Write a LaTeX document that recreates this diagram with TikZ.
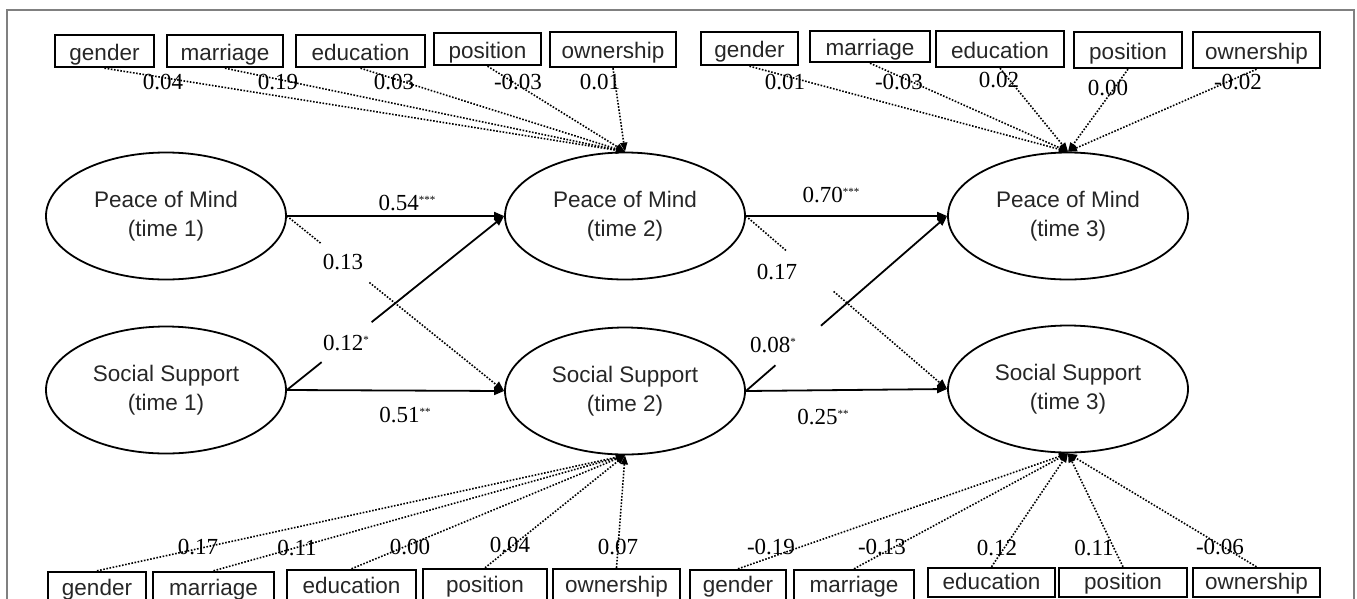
\documentclass[tikz,border=0pt]{standalone}
\usepackage{fontspec}
\setmainfont{Liberation Serif}
\setsansfont{Liberation Sans}
\usetikzlibrary{calc,arrows.meta,shapes.geometric}
\newcommand{\sig}[1]{\raisebox{7pt}{\fontsize{11}{11}\selectfont #1}}
\begin{document}
\begin{tikzpicture}[x=1pt,y=-1pt,
  lat/.style={ellipse, draw, line width=1.8pt, minimum width=240pt, minimum height=127pt,
    inner sep=0pt, align=center, text=black!85,
    font=\sffamily\fontsize{22.5}{29}\selectfont},
  ctrl/.style={draw, line width=2.4pt, inner sep=0pt, text height=18pt, text depth=0pt,
    text=black!85, font=\sffamily\fontsize{22.5}{26}\selectfont},
  bctrl/.style={ctrl, text height=14pt},
  lab/.style={inner sep=1pt, font=\fontsize{23}{23}\selectfont},
  tipa/.style={-{Triangle[length=10pt,width=8pt]}},
  solidl/.style={line width=1.8pt},
  dotl/.style={line width=1.6pt, dash pattern=on 1.6pt off 1.6pt},
  ctl/.style={dotl, -{Triangle[length=9pt,width=7pt]}}
]
\useasboundingbox (0,0) rectangle (1357,598);
\draw[black!50, line width=2pt] (7,600) -- (7,9.5) -- (1354,9.5) -- (1354,600);

% latent variables
\node[lat] (pom1) at (166,216) {Peace of Mind\\(time 1)};
\node[lat] (ss1)  at (166,390) {Social Support\\(time 1)};
\node[lat] (pom2) at (625,216) {Peace of Mind\\(time 2)};
\node[lat] (ss2)  at (625,391) {Social Support\\(time 2)};
\node[lat] (pom3) at (1068,216) {Peace of Mind\\(time 3)};
\node[lat] (ss3)  at (1068,389) {Social Support\\(time 3)};

% top-left controls
\node[ctrl, minimum width=99pt,  minimum height=32pt] (tlg) at (104.5,51) {gender};
\node[ctrl, minimum width=116pt, minimum height=32pt] (tlm) at (225,51) {marriage};
\node[ctrl, minimum width=129pt, minimum height=32pt] (tle) at (360.5,51) {education};
\node[ctrl, minimum width=107pt, minimum height=32pt] (tlp) at (487.5,49) {position};
\node[ctrl, minimum width=126pt, minimum height=35pt] (tlo) at (613,49.5) {ownership};
% top-right controls
\node[ctrl, minimum width=97pt,  minimum height=33pt] (trg) at (749.5,48.5) {gender};
\node[ctrl, minimum width=120pt, minimum height=31pt] (trm) at (870,46.5) {marriage};
\node[ctrl, minimum width=128pt, minimum height=36pt] (tre) at (1000,49) {education};
\node[ctrl, minimum width=108pt, minimum height=36pt] (trp) at (1128,50) {position};
\node[ctrl, minimum width=127pt, minimum height=36pt] (tro) at (1256.5,50) {ownership};
% bottom-left controls
\node[bctrl, minimum width=98pt,  minimum height=32pt] (blg) at (97,588) {gender};
\node[bctrl, minimum width=121pt, minimum height=32pt] (blm) at (213.5,588) {marriage};
\node[bctrl, minimum width=129pt, minimum height=33pt] (ble) at (351.5,586.5) {education};
\node[bctrl, minimum width=124pt, minimum height=33pt] (blp) at (485,585.5) {position};
\node[bctrl, minimum width=127pt, minimum height=33pt] (blo) at (616.5,585.5) {ownership};
% bottom-right controls
\node[bctrl, minimum width=96pt,  minimum height=30pt] (brg) at (738,585) {gender};
\node[bctrl, minimum width=120pt, minimum height=30pt] (brm) at (854,585) {marriage};
\node[bctrl, minimum width=127pt, minimum height=29pt] (bre) at (991.5,582.5) {education};
\node[bctrl, minimum width=128pt, minimum height=29pt] (brp) at (1123,582.5) {position};
\node[bctrl, minimum width=127pt, minimum height=29pt] (bro) at (1256.5,582.5) {ownership};

% control paths
\foreach \b in {tlg,tlm,tle,tlp,tlo} \draw[ctl] (\b.south) -- (pom2.north);
\foreach \b in {trg,trm,tre,trp,tro} \draw[ctl] (\b.south) -- (pom3.north);
\foreach \b in {blg,blm,ble,blp,blo} \draw[ctl] (\b.north) -- (ss2.south);
\foreach \b in {brg,brm,bre,brp,bro} \draw[ctl] (\b.north) -- (ss3.south);

% control coefficients
\node[lab] (c1) at (163,82) {0.04};
\node[lab] (c2) at (278,82) {0.19};
\node[lab] (c3) at (394,82) {0.03};
\node[lab] (c4) at (518,82) {-0.03};
\node[lab] (c5) at (600,82) {0.01};
\node[lab] (c6) at (785,82) {0.01};
\node[lab] (c7) at (899,82) {-0.03};
\node[lab] (c8) at (999,80) {0.02};
\node[lab] (c9) at (1108,88) {0.00};
\node[lab] (c10) at (1238,82) {-0.02};
\node[lab] (c11) at (198,547) {0.17};
\node[lab] (c12) at (297,548) {0.11};
\node[lab] (c13) at (410,547) {0.00};
\node[lab] (c14) at (510,545) {0.04};
\node[lab] (c15) at (618,547) {0.07};
\node[lab] (c16) at (771,547) {-0.19};
\node[lab] (c17) at (882,547) {-0.13};
\node[lab] (c18) at (997,548) {0.12};
\node[lab] (c19) at (1094,548) {0.11};
\node[lab] (c20) at (1220,547) {-0.06};

% structural paths, stage 1
\draw[solidl,tipa] (pom1.east) -- (pom2.west);
\draw[solidl,tipa] (ss1.east) -- (ss2.west);
\draw[dotl] (pom1.east) -- ($(pom1.east)!0.16!(ss2.west)$);
\draw[dotl,tipa] ($(pom1.east)!0.38!(ss2.west)$) -- (ss2.west);
\draw[solidl] (ss1.east) -- ($(ss1.east)!0.16!(pom2.west)$);
\draw[solidl,tipa] ($(ss1.east)!0.39!(pom2.west)$) -- (pom2.west);
\node[lab] (p1) at (407,203) {0.54\sig{***}};
\node[lab] (p2) at (405,415) {0.51\sig{**}};
\node[lab] (p3) at (343,262) {0.13};
\node[lab] (p4) at (346,343) {0.12\sig{*}};

% structural paths, stage 2
\draw[solidl,tipa] (pom2.east) -- (pom3.west);
\draw[solidl,tipa] (ss2.east) -- (ss3.west);
\draw[dotl] (pom2.east) -- ($(pom2.east)!0.2!(ss3.west)$);
\draw[dotl,tipa] ($(pom2.east)!0.436!(ss3.west)$) -- (ss3.west);
\draw[solidl] (ss2.east) -- ($(ss2.east)!0.147!(pom3.west)$);
\draw[solidl,tipa] ($(ss2.east)!0.373!(pom3.west)$) -- (pom3.west);
\node[lab] (p5) at (831,195) {0.70\sig{***}};
\node[lab] (p6) at (823,417) {0.25\sig{**}};
\node[lab] (p7) at (777,272) {0.17};
\node[lab] (p8) at (773,345) {0.08\sig{*}};
\end{tikzpicture}
\end{document}
